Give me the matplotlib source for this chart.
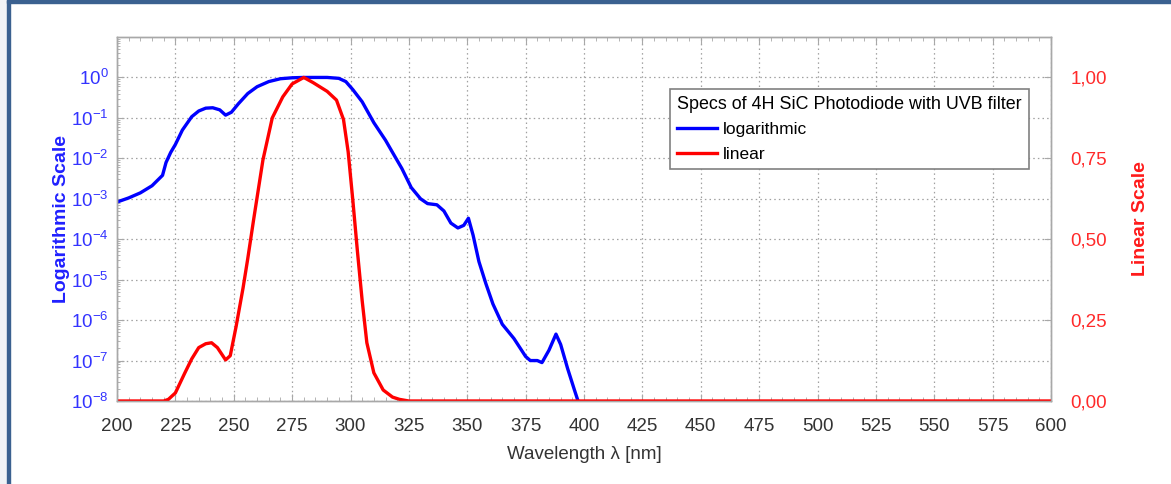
import matplotlib
matplotlib.use("Agg")
import matplotlib.pyplot as plt
from matplotlib.patches import Rectangle
from matplotlib.ticker import FixedLocator, MultipleLocator, FuncFormatter, LogLocator, NullFormatter

plt.rcParams['font.family'] = ['Liberation Sans', 'DejaVu Sans']

# ---- data ----
log_nm = [200, 205, 210, 215, 219.5, 221, 223, 225, 228, 232, 235, 238, 241, 244, 246.5,
          249, 252, 256, 260, 265, 270, 275, 280, 285, 290, 295, 298, 301, 305, 310, 315,
          318, 322, 326, 330, 333, 337, 340, 343, 346, 348.5, 350.5, 352.5, 355, 358, 361,
          365, 370, 375, 377, 380, 382, 385, 388, 390, 393, 396, 398, 400]
log_val = [8.3e-4, 1.05e-3, 1.4e-3, 2.1e-3, 3.8e-3, 7.9e-3, 1.4e-2, 2.2e-2, 5e-2, 0.107,
           0.148, 0.174, 0.178, 0.158, 0.117, 0.138, 0.224, 0.40, 0.59, 0.79, 0.93, 0.98,
           1.0, 1.0, 1.0, 0.95, 0.79, 0.50, 0.25, 7.6e-2, 2.8e-2, 1.4e-2, 5.6e-3, 1.9e-3,
           1.0e-3, 7.6e-4, 7.1e-4, 5e-4, 2.5e-4, 1.9e-4, 2.2e-4, 3.3e-4, 1.26e-4, 2.8e-5,
           7.9e-6, 2.5e-6, 7.9e-7, 3.5e-7, 1.26e-7, 1.0e-7, 1.0e-7, 8.9e-8, 1.8e-7, 4.5e-7,
           2.5e-7, 6.3e-8, 1.8e-8, 8e-9, 2.5e-9]

lin_nm = [200, 220, 222, 225, 229, 232, 235, 238, 240.5, 243, 246.5, 248.5, 251, 254, 256,
          258.5, 262.5, 266.5, 271, 275, 280, 284, 290, 294, 297, 299, 301, 303, 305, 307,
          310, 314, 318, 321, 325, 600]
lin_val = [0, 0, 0.005, 0.025, 0.086, 0.13, 0.165, 0.177, 0.18, 0.165, 0.127, 0.14, 0.23,
           0.35, 0.44, 0.56, 0.745, 0.875, 0.94, 0.98, 1.0, 0.984, 0.957, 0.93, 0.87, 0.77,
           0.62, 0.46, 0.31, 0.18, 0.087, 0.034, 0.012, 0.005, 0, 0]

x_ticks = list(range(200, 601, 25))
log_ticks = [1e0, 1e-1, 1e-2, 1e-3, 1e-4, 1e-5, 1e-6, 1e-7, 1e-8]
lin_ticks = [0.0, 0.25, 0.5, 0.75, 1.0]

legend_title = "Specs of 4H SiC Photodiode with UVB filter"
labels = ["logarithmic", "linear"]

# ---- figure ----
W, H = 1171, 484
fig = plt.figure(figsize=(W / 100, H / 100), dpi=100)
fig.patches.append(Rectangle((0, 0), 7 / W, 1, transform=fig.transFigure, color='#f1f3f6', zorder=0))
fig.patches.append(Rectangle((7 / W, 0), 3 / W, 1, transform=fig.transFigure, color='#3b6190', zorder=1))
fig.patches.append(Rectangle((7 / W, 1 - 3 / H), 1 - 7 / W, 3 / H, transform=fig.transFigure, color='#3b6190', zorder=1))

left, right, bottom, top = 117 / W, 1051 / W, 1 - 401 / H, 1 - 37 / H
ax = fig.add_axes([left, bottom, right - left, top - bottom])
ax2 = ax.twinx()

spine_c = '#a8a8a8'
grid_kw = dict(color='#a0a0a0', linestyle=(0, (1.2, 2.5)), linewidth=0.9)

ax.set_yscale('log')
ax.set_xlim(200, 600)
ax.set_ylim(1e-8, 1e1)
ax2.set_ylim(0, 1.125)

l1, = ax.plot(log_nm, log_val, color='#0000ff', lw=2.4, label=labels[0], solid_joinstyle='round')
l2, = ax2.plot(lin_nm, lin_val, color='#ff0000', lw=2.4, label=labels[1], solid_joinstyle='round')

ax.set_xticks(x_ticks)
ax.xaxis.set_minor_locator(MultipleLocator(5))
ax.yaxis.set_major_locator(FixedLocator(log_ticks))
ax.yaxis.set_minor_locator(LogLocator(base=10, subs=range(2, 10), numticks=20))
ax.yaxis.set_minor_formatter(NullFormatter())
ax.grid(True, which='major', **grid_kw)

ax2.yaxis.set_major_locator(FixedLocator(lin_ticks))
ax2.yaxis.set_major_formatter(FuncFormatter(lambda v, p: f"{v:.2f}".replace('.', ',')))

for a in (ax, ax2):
    for s in a.spines.values():
        s.set_color(spine_c)
        s.set_linewidth(1.0)

fs = 13.5
ax.tick_params(axis='x', which='both', direction='in', top=True, colors=spine_c,
               labelcolor='#333333', labelsize=fs, pad=12)
ax.tick_params(axis='x', which='major', length=5)
ax.tick_params(axis='x', which='minor', length=3)
ax.tick_params(axis='y', which='both', direction='in', colors=spine_c,
               labelcolor='#3333ff', labelsize=fs, right=False, pad=6)
ax.tick_params(axis='y', which='major', length=5)
ax.tick_params(axis='y', which='minor', length=2.5)
ax2.tick_params(axis='y', direction='in', colors=spine_c, labelcolor='#ff2a2a',
                labelsize=fs, length=5, pad=14)

ax.set_xlabel("Wavelength \u03bb [nm]", fontsize=fs, color='#333333', labelpad=8)
ax.set_ylabel("Logarithmic Scale", fontsize=14, color='#2020ff', fontweight='bold', labelpad=1)
ax2.set_ylabel("Linear Scale", fontsize=14, color='#ff1a1a', fontweight='bold', labelpad=18)

leg = ax2.legend(handles=[l1, l2], title=legend_title, loc='upper left',
                 bbox_to_anchor=((670 - 117) / 934, (401 - 89) / 364), fontsize=12.5,
                 title_fontsize=12.9, alignment='left', fancybox=False, framealpha=1,
                 edgecolor='#808080', handlelength=2.3, handletextpad=0.3,
                 borderpad=0.42, labelspacing=0.52, borderaxespad=0)
leg.get_frame().set_linewidth(1.2)

fig.savefig("out.png", dpi=100)
